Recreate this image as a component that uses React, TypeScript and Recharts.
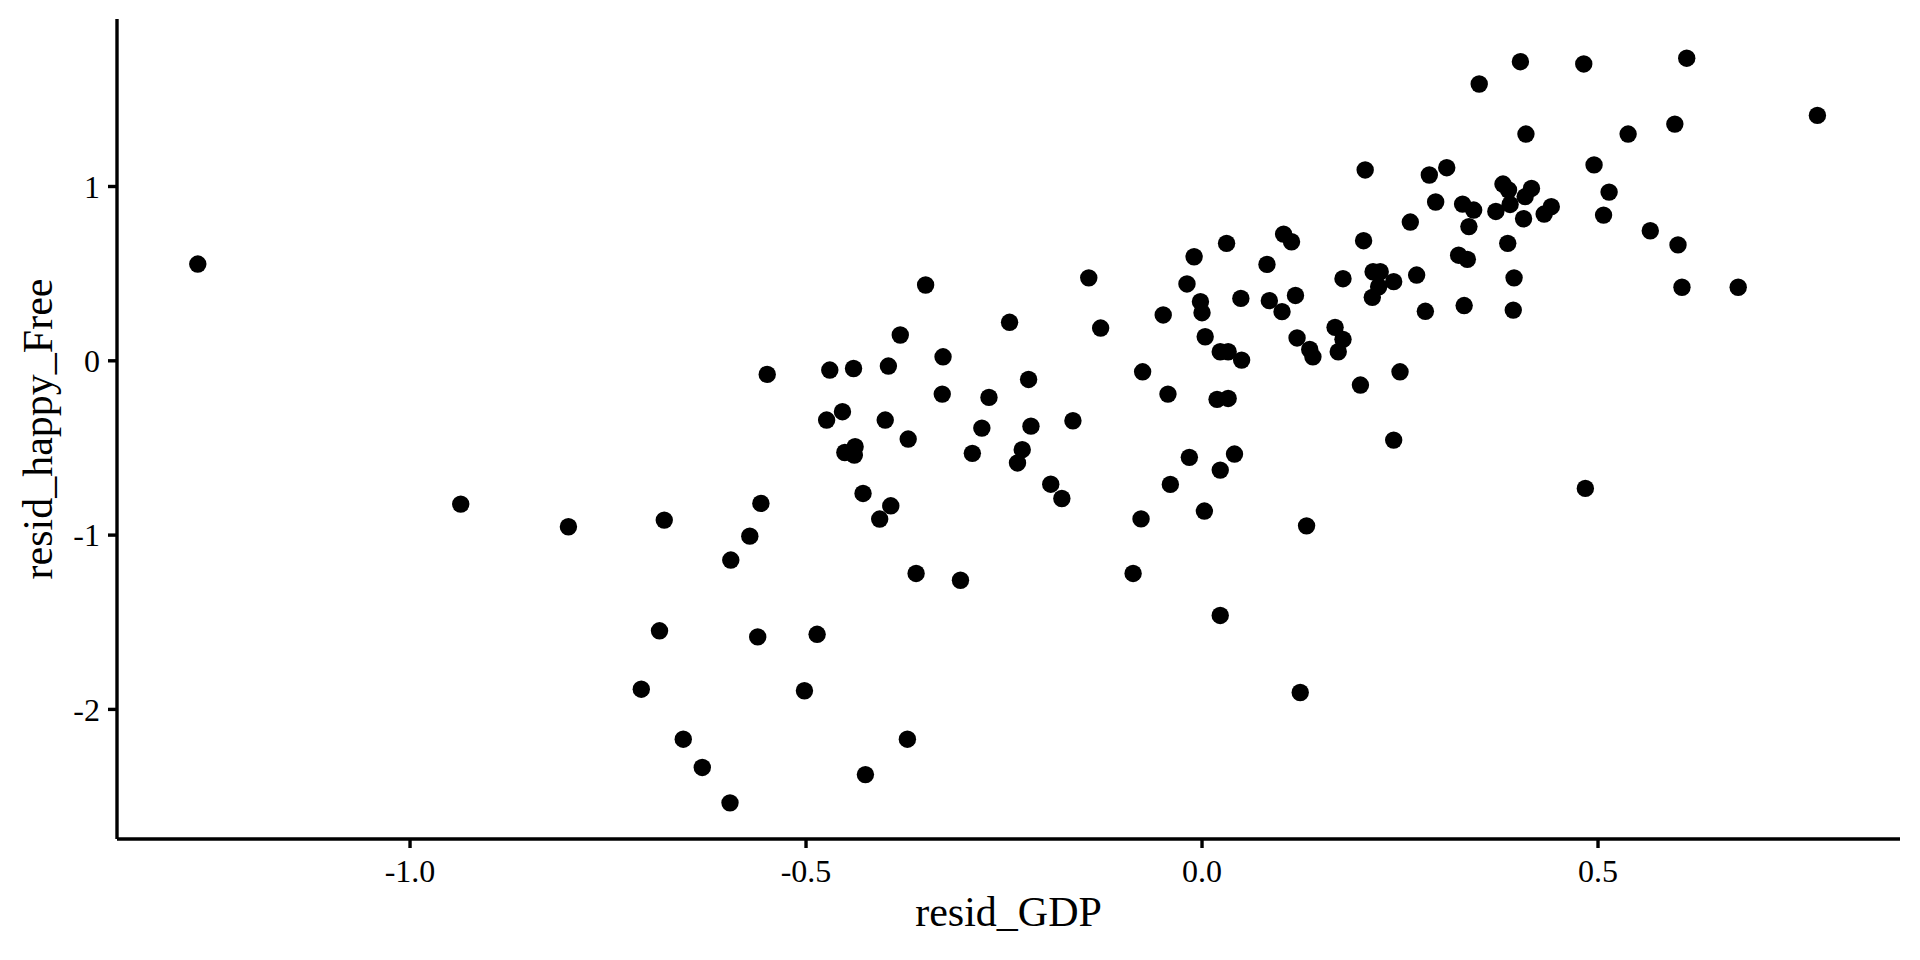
import { ScatterChart, Scatter, XAxis, YAxis, Label } from 'recharts';

const residGDP = [
  -1.268, -0.936, -0.8, -0.679, -0.708, -0.685, -0.655, -0.631, -0.596, -0.595,
  -0.571, -0.557, -0.561, -0.549, -0.502, -0.486, -0.474, -0.47, -0.454, -0.451,
  -0.44, -0.439, -0.438, -0.428, -0.425, -0.407, -0.4, -0.396, -0.393, -0.381,
  -0.372, -0.371, -0.361, -0.349, -0.327, -0.328, -0.305, -0.29, -0.278, -0.269,
  -0.243, -0.233, -0.227, -0.219, -0.216, -0.191, -0.177, -0.163, -0.143, -0.128,
  -0.087, -0.077, -0.075, -0.049, -0.043, -0.04, -0.019, -0.016, -0.01, -0.002,
  0.0, 0.003, 0.004, 0.019, 0.023, 0.023, 0.023, 0.031, 0.033, 0.033,
  0.041, 0.049, 0.05, 0.082, 0.085, 0.101, 0.103, 0.113, 0.118, 0.12,
  0.124, 0.132, 0.136, 0.14, 0.168, 0.172, 0.178, 0.178, 0.2, 0.204,
  0.206, 0.215, 0.216, 0.225, 0.223, 0.242, 0.242, 0.25, 0.263, 0.271,
  0.282, 0.287, 0.295, 0.309, 0.324, 0.329, 0.331, 0.335, 0.337, 0.343,
  0.35, 0.371, 0.38, 0.387, 0.386, 0.389, 0.394, 0.393, 0.402, 0.406,
  0.408, 0.409, 0.416, 0.432, 0.441, 0.482, 0.484, 0.495, 0.507, 0.514,
  0.538, 0.566, 0.597, 0.601, 0.606, 0.612, 0.677, 0.777,
];

const residHappyFree = [
  0.555, -0.822, -0.952, -0.914, -1.884, -1.549, -2.171, -2.333, -2.536, -1.143,
  -1.006, -0.818, -1.584, -0.078, -1.893, -1.569, -0.34, -0.053, -0.292, -0.526,
  -0.044, -0.541, -0.493, -0.761, -2.374, -0.908, -0.34, -0.03, -0.832, 0.148,
  -2.171, -0.449, -1.22, 0.435, 0.023, -0.191, -1.259, -0.531, -0.386, -0.21,
  0.221, -0.586, -0.51, -0.107, -0.375, -0.708, -0.79, -0.344, 0.476, 0.188,
  -1.22, -0.907, -0.063, 0.263, -0.191, -0.709, 0.441, -0.554, 0.597, 0.339,
  0.276, -0.862, 0.138, -0.221, -1.461, -0.627, 0.052, 0.674, -0.216, 0.052,
  -0.535, 0.358, 0.004, 0.553, 0.345, 0.282, 0.727, 0.683, 0.375, 0.131,
  -1.903, -0.947, 0.065, 0.023, 0.192, 0.052, 0.123, 0.471, -0.139, 0.689,
  1.095, 0.364, 0.511, 0.511, 0.425, 0.454, -0.455, -0.063, 0.796, 0.492,
  0.284, 1.066, 0.911, 1.108, 0.606, 0.899, 0.317, 0.582, 0.77, 0.865,
  1.588, 0.857, 1.014, 0.98, 0.674, 0.897, 0.476, 0.291, 1.716, 0.815,
  0.942, 1.301, 0.989, 0.842, 0.884, 1.703, -0.732, 1.124, 0.836, 0.968,
  1.301, 0.746, 1.358, 0.665, 0.422, 1.736, 0.422, 1.408,
];

const xTicks = [-1.0, -0.5, 0.0, 0.5];
const yTicks = [-2, -1, 0, 1];

const points = residGDP.map((x, i) => ({ x, y: residHappyFree[i] }));

const font = '"Liberation Serif", "Times New Roman", serif';
const axisStroke = { stroke: '#000', strokeWidth: 3.4 };
const tickStyle = { fill: '#000', fontSize: 32, fontFamily: font };

const Dot = (props: any) => <circle cx={props.cx} cy={props.cy} r={8.7} fill="#000" />;

export default function App() {
  return (
    <div style={{ position: 'absolute', left: 0, top: 0, width: 1920, height: 960, background: '#fff' }}>
      <ScatterChart width={1920} height={960} margin={{ top: 19, right: 20, bottom: 0, left: 0 }}>
        <XAxis
          type="number"
          dataKey="x"
          domain={[-1.37, 0.8813]}
          ticks={xTicks}
          tickFormatter={(v: number) => v.toFixed(1)}
          height={121}
          axisLine={axisStroke}
          tickLine={axisStroke}
          tickSize={9}
          tickMargin={11}
          tick={tickStyle}
          allowDataOverflow
        >
          <Label
            content={({ viewBox }: any) => (
              <text
                x={viewBox.x + viewBox.width / 2}
                y={viewBox.y + 87}
                textAnchor="middle"
                fontSize={42}
                fontFamily={font}
                fill="#000"
              >
                resid_GDP
              </text>
            )}
          />
        </XAxis>
        <YAxis
          type="number"
          dataKey="y"
          domain={[-2.7435, 1.961]}
          ticks={yTicks}
          width={117}
          axisLine={axisStroke}
          tickLine={axisStroke}
          tickSize={9}
          tickMargin={8}
          tick={tickStyle}
          allowDataOverflow
        >
          <Label
            content={({ viewBox }: any) => {
              const cx = viewBox.x + 52;
              const cy = viewBox.y + viewBox.height / 2;
              return (
                <text
                  x={cx}
                  y={cy}
                  transform={`rotate(-90, ${cx}, ${cy})`}
                  textAnchor="middle"
                  fontSize={42}
                  fontFamily={font}
                  fill="#000"
                >
                  resid_happy_Free
                </text>
              );
            }}
          />
        </YAxis>
        <Scatter data={points} shape={Dot} isAnimationActive={false} />
      </ScatterChart>
    </div>
  );
}
